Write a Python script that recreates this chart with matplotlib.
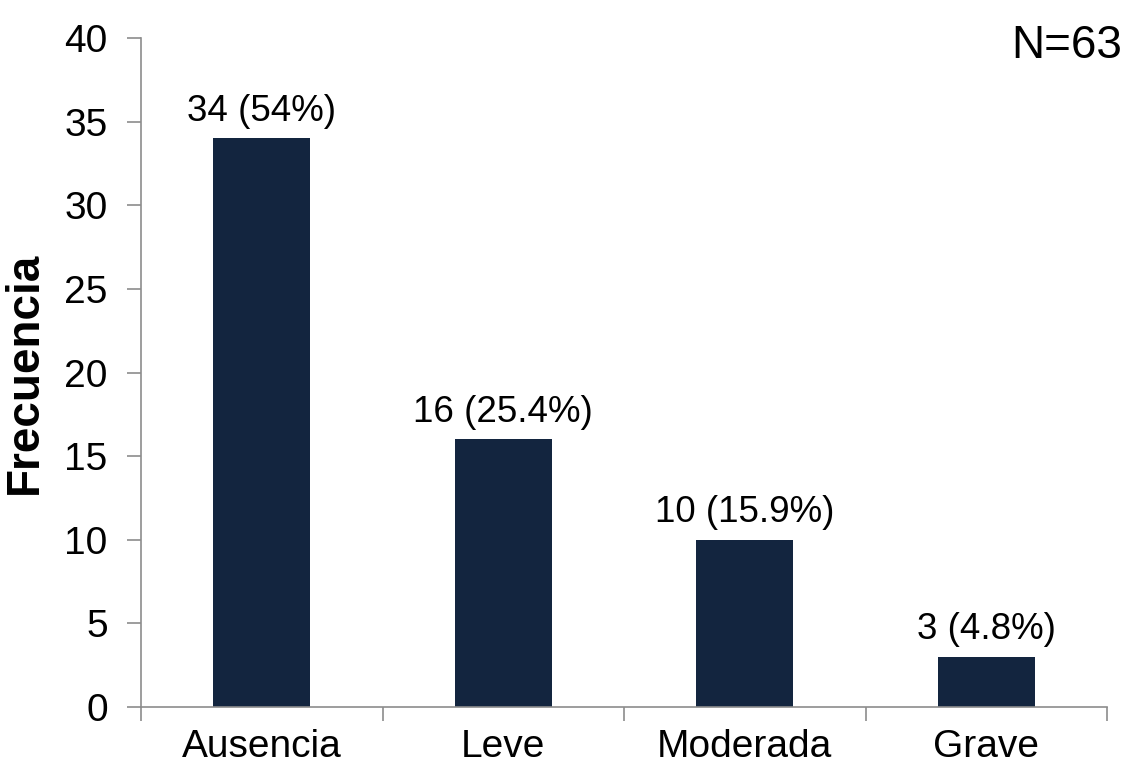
import matplotlib.pyplot as plt
from matplotlib.ticker import FixedLocator

plt.rcParams['font.family'] = ['Liberation Sans', 'DejaVu Sans']

# data
categorias = ['Ausencia', 'Leve', 'Moderada', 'Grave']
frecuencias = [34, 16, 10, 3]
etiquetas = ['34 (54%)', '16 (25.4%)', '10 (15.9%)', '3 (4.8%)']
n_total = 63

bar_color = '#13253F'
spine_color = '#8C8C8C'

fig = plt.figure(figsize=(11.27, 7.65), dpi=100)
ax = fig.add_axes([0.1251, 0.0758, 0.8572, 0.8745])

x = range(len(categorias))
bars = ax.bar(x, frecuencias, width=0.4, color=bar_color, zorder=2)

# value labels above bars
for b, lab in zip(bars, etiquetas):
    ax.annotate(lab, (b.get_x() + b.get_width() / 2, b.get_height()),
                xytext=(0, 7), textcoords='offset points',
                ha='center', va='bottom', fontsize=26.5)

ax.set_xlim(-0.5, len(categorias) - 0.5)
ax.set_ylim(0, 40)
ax.set_yticks(range(0, 41, 5))
ax.set_xticks(list(x))
ax.set_xticklabels(categorias)
ax.xaxis.set_minor_locator(FixedLocator([i - 0.5 for i in range(len(categorias) + 1)]))

ax.tick_params(axis='x', which='major', length=0, pad=16, labelsize=28)
ax.tick_params(axis='x', which='minor', length=10, width=1.2, color=spine_color, direction='out')
ax.tick_params(axis='y', length=10, width=1.2, color=spine_color, labelsize=28, pad=14)

for s in ['top', 'right']:
    ax.spines[s].set_visible(False)
for s in ['left', 'bottom']:
    ax.spines[s].set_color(spine_color)
    ax.spines[s].set_linewidth(1.2)

ax.set_ylabel('Frecuencia', fontsize=33, fontweight='bold')
ax.yaxis.set_label_coords(-0.097, 0.5)

fig.text(0.996, 0.968, f'N={n_total}', ha='right', va='top', fontsize=33)

fig.savefig('out.png', dpi=100)
